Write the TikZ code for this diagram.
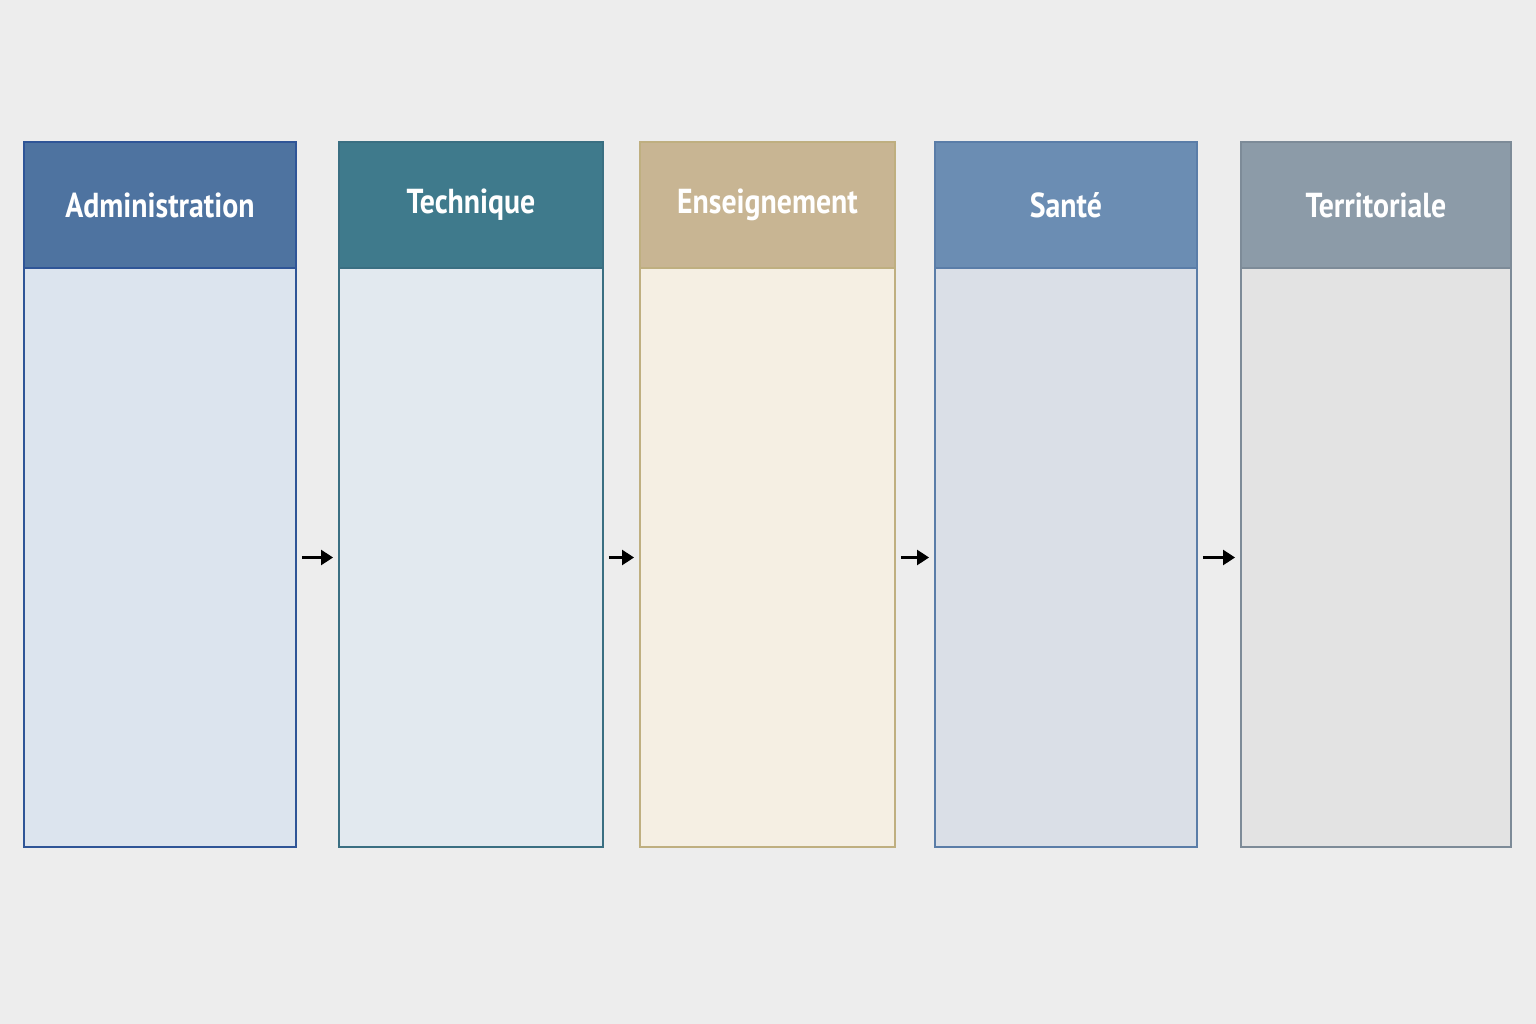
\documentclass[tikz,border=0pt]{standalone}
\usepackage{fontspec}
\setmainfont{PT Sans}[FakeStretch=0.86]
\usetikzlibrary{arrows.meta}
\begin{document}
\begin{tikzpicture}[x=0.75pt,y=-0.75pt,
  hdr/.style={draw=#1,line width=0.8pt,inner sep=0,text=white,font=\bfseries\fontsize{26}{30}\selectfont},
  bdy/.style={draw=#1,line width=0.8pt,inner sep=0},
  arr/.style={-{Triangle[length=9pt,width=11pt]},line width=2.4pt,black,shorten <=4pt,shorten >=4pt}]
\fill[black!7] (0,0) rectangle (1536,1024);
\useasboundingbox (0,0) rectangle (1536,1024);
\definecolor{h1}{HTML}{4E73A0}\definecolor{b1}{HTML}{DCE4EE}\definecolor{l1}{HTML}{2F5597}
\definecolor{h2}{HTML}{3F7A8C}\definecolor{b2}{HTML}{E2E9EF}\definecolor{l2}{HTML}{3A6F82}
\definecolor{h3}{HTML}{C8B593}\definecolor{b3}{HTML}{F5EFE3}\definecolor{l3}{HTML}{BFAF80}
\definecolor{h4}{HTML}{6B8DB3}\definecolor{b4}{HTML}{DADFE7}\definecolor{l4}{HTML}{5A7DA8}
\definecolor{h5}{HTML}{8C9BA8}\definecolor{b5}{HTML}{E3E3E3}\definecolor{l5}{HTML}{7D8B98}
\foreach \i/\xa/\xb/\t in {1/24/296/Administration,2/339/603/Technique,3/640/895/Enseignement,4/935/1197/Santé,5/1241/1511/Territoriale}{
  \pgfmathsetmacro\w{(\xb-\xa)*0.75}
  \node[bdy=l\i,fill=b\i,minimum width=\w pt,minimum height=579*0.75pt] (b\i) at ({(\xa+\xb)/2},557.5) {};
  \node[hdr=l\i,fill=h\i,minimum width=\w pt,minimum height=126*0.75pt] (h\i) at ({(\xa+\xb)/2},205) {\t};
}
\foreach \a/\b in {1/2,2/3,3/4,4/5}{\draw[arr] (b\a.east) -- (b\b.west);}
\end{tikzpicture}
\end{document}
